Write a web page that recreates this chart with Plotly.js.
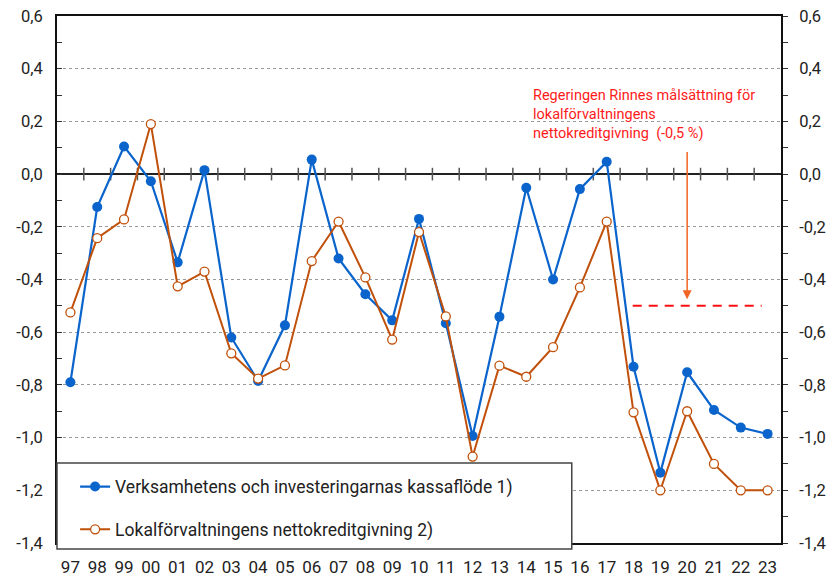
<!DOCTYPE html>
<html>
<head>
<meta charset="utf-8">
<script src="https://cdn.plot.ly/plotly-3.0.1.min.js"></script>
<style>html,body{margin:0;padding:0;background:#fff;}#chart{width:839px;height:576px;}</style>
</head>
<body>
<div id="chart"></div>
<script>
const years = ['97','98','99','00','01','02','03','04','05','06','07','08','09','10','11','12','13','14','15','16','17','18','19','20','21','22','23'];
const kassaflode = [-0.79,-0.125,0.105,-0.027,-0.335,0.015,-0.62,-0.785,-0.574,0.055,-0.32,-0.456,-0.555,-0.17,-0.566,-0.994,-0.541,-0.052,-0.40,-0.057,0.047,-0.731,-1.133,-0.752,-0.895,-0.962,-0.986];
const nettokredit = [-0.525,-0.243,-0.172,0.19,-0.426,-0.37,-0.68,-0.776,-0.726,-0.33,-0.18,-0.392,-0.628,-0.22,-0.54,-1.072,-0.727,-0.769,-0.657,-0.43,-0.18,-0.904,-1.2,-0.9,-1.1,-1.2,-1.2];
const seriesNames = ['Verksamhetens och investeringarnas kassaflöde 1)', 'Lokalförvaltningens nettokreditgivning 2)'];
const yTickVals = [0.6,0.4,0.2,0.0,-0.2,-0.4,-0.6,-0.8,-1.0,-1.2,-1.4];
const yTickText = ['0,6','0,4','0,2','0,0','-0,2','-0,4','-0,6','-0,8','-1,0','-1,2','-1,4'];
const targetValue = -0.5;
const targetStartYear = '18';
const arrowYear = '20';
const annotationText = 'Regeringen Rinnes målsättning för<br>lokalförvaltningens<br>nettokreditgivning  (-0,5 %)';

const xIdx = years.map((_, i) => i);
const boundaries = years.slice(1).map((_, i) => i + 0.5);

const FONT = 'Roboto, "Open Sans", sans-serif';
const BLUE = '#0A64CC';
const BROWN = '#C0500A';

const traces = [
  {
    x: boundaries, y: boundaries.map(() => 0), type: 'scatter', mode: 'markers',
    marker: {symbol: 'line-ns', size: 9, line: {width: 1.5, color: '#555'}},
    showlegend: false, hoverinfo: 'skip'
  },
  {
    x: xIdx, y: kassaflode, type: 'scatter', mode: 'lines+markers', name: seriesNames[0],
    legendgroup: 'a',
    line: {color: BLUE, width: 2.2},
    marker: {color: BLUE, size: 10, line: {width: 0}}
  },
  {
    x: xIdx, y: nettokredit, type: 'scatter', mode: 'lines+markers', name: seriesNames[1],
    legendgroup: 'b',
    line: {color: BROWN, width: 2},
    marker: {color: '#fff', size: 9, line: {width: 1.3, color: BROWN}}
  },
  {
    x: [0], y: [0], yaxis: 'y2', mode: 'markers', marker: {opacity: 0}, showlegend: false, hoverinfo: 'skip'
  }
];

const layout = {
  width: 839, height: 576,
  margin: {l: 57, r: 58, t: 16, b: 33, pad: 0},
  paper_bgcolor: '#fff', plot_bgcolor: '#fff',
  font: {family: FONT, color: '#222', size: 16},
  showlegend: true,
  legend: {
    x: 0.025, xanchor: 'left', y: 0.141, yanchor: 'top',
    bgcolor: 'rgba(0,0,0,0)', borderwidth: 0,
    font: {family: FONT, size: 17.5, color: '#222'},
    traceorder: 'grouped', tracegroupgap: 17
  },
  xaxis: {
    range: [-0.5, years.length - 0.5],
    tickmode: 'array', tickvals: xIdx, ticktext: years,
    ticks: '', showgrid: false, zeroline: false,
    showline: true, linecolor: '#111', linewidth: 2, mirror: true,
    tickfont: {size: 17, color: '#222'}, ticklabelstandoff: 8
  },
  yaxis: {
    range: [-1.4, 0.6],
    tickmode: 'array', tickvals: yTickVals, ticktext: yTickText,
    ticks: 'inside', ticklen: 5, tickcolor: '#333', tickwidth: 1,
    minor: {tickmode: 'linear', tick0: 0, dtick: 0.1, ticks: 'inside', ticklen: 5, tickcolor: '#333', showgrid: false},
    showgrid: true, gridcolor: '#9a9a9a', griddash: 'dot', gridwidth: 1,
    zeroline: true, zerolinecolor: '#222', zerolinewidth: 1.5,
    showline: true, linecolor: '#111', linewidth: 2,
    tickfont: {size: 16.5, color: '#222'}, ticklabelstandoff: 9
  },
  yaxis2: {
    overlaying: 'y', side: 'right', range: [-1.4, 0.6],
    tickmode: 'array', tickvals: yTickVals, ticktext: yTickText,
    ticks: 'outside', ticklen: 5, tickcolor: '#333', tickwidth: 1,
    minor: {tickmode: 'linear', tick0: 0, dtick: 0.1, ticks: 'outside', ticklen: 5, tickcolor: '#333', showgrid: false},
    showgrid: false, zeroline: false,
    showline: true, linecolor: '#111', linewidth: 2,
    tickfont: {size: 16.5, color: '#222'}, ticklabelstandoff: 8
  },
  shapes: [
    {type: 'rect', layer: 'between', xref: 'paper', yref: 'y', x0: 0.64, x1: 1, y0: 0.12, y1: 0.32,
     fillcolor: '#fff', line: {width: 0}},
    {type: 'line', xref: 'x', yref: 'y', x0: years.indexOf(targetStartYear) - 0.03, x1: 25.78,
     y0: targetValue, y1: targetValue, line: {color: '#FF1010', width: 2, dash: '9px,7px'}},
    {type: 'rect', layer: 'above', xref: 'paper', yref: 'paper', x0: 0, x1: 0.711, y0: -0.0114, y1: 0.1518,
     fillcolor: '#fff', line: {color: '#444', width: 1.5}}
  ],
  annotations: [
    {xref: 'paper', yref: 'paper', x: 0.655, y: 0.869, xanchor: 'left', yanchor: 'top', align: 'left',
     text: annotationText, showarrow: false, font: {family: FONT, size: 14.5, color: '#FF1A1A'}},
    {xref: 'x', yref: 'y', axref: 'x', ayref: 'y', x: years.indexOf(arrowYear), y: -0.475,
     ax: years.indexOf(arrowYear), ay: 0.09, text: '', showarrow: true, arrowhead: 2, arrowsize: 1.2,
     arrowwidth: 1.5, arrowcolor: '#F26522', standoff: 0}
  ]
};

Plotly.newPlot('chart', traces, layout, {displayModeBar: false, staticPlot: true});
</script>
</body>
</html>
